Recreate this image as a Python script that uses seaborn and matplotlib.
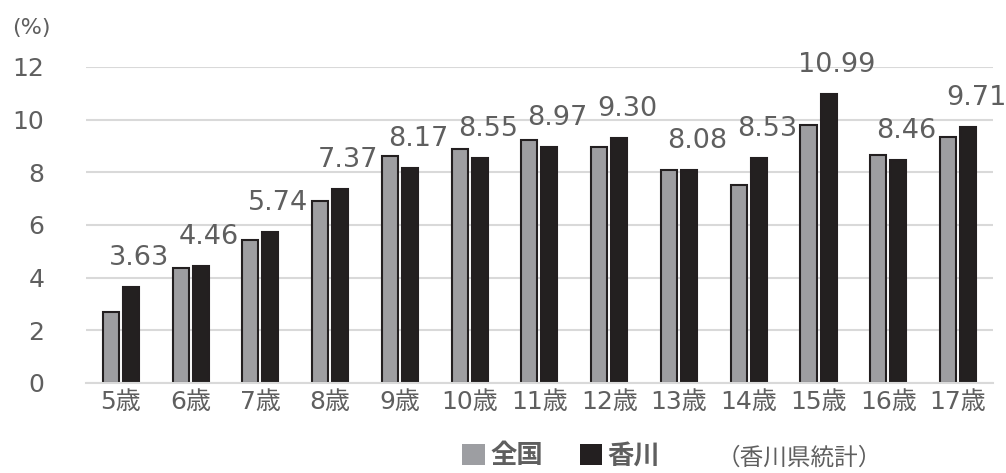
import pandas as pd
import seaborn as sns
import matplotlib.pyplot as plt
from matplotlib.patches import Patch

ages = ["5歳", "6歳", "7歳", "8歳", "9歳", "10歳", "11歳", "12歳",
        "13歳", "14歳", "15歳", "16歳", "17歳"]
zenkoku = [2.71, 4.38, 5.44, 6.90, 8.63, 8.87, 9.22, 8.98, 8.09, 7.52, 9.79, 8.66, 9.33]
kagawa = [3.63, 4.46, 5.74, 7.37, 8.17, 8.55, 8.97, 9.30, 8.08, 8.53, 10.99, 8.46, 9.71]
groups = ["全国", "香川"]

df = pd.DataFrame({
    "age": ages * 2,
    "value": zenkoku + kagawa,
    "group": [groups[0]] * len(ages) + [groups[1]] * len(ages),
})

gray = "#9d9ea2"
black = "#231f20"
text_c = "#5f5f5f"

sns.set_theme(style="white")
plt.rcParams["font.family"] = ["DejaVu Sans", "Noto Sans CJK JP"]

fig = plt.figure(figsize=(10.06, 4.73), dpi=100)
ax = fig.add_axes([0.0855, 0.1903, 0.9015, 0.6681])

sns.barplot(data=df, x="age", y="value", hue="group", palette=[gray, black],
            width=0.574, gap=0.2, edgecolor=black, linewidth=1.5,
            legend=False, ax=ax)

ax.set_ylim(0, 12)
ax.set_yticks(range(0, 13, 2))
ax.set_xlabel("")
ax.set_ylabel("")
ax.grid(axis="y", color="#d9d9d9", linewidth=1.5)
ax.set_axisbelow(True)
for s in ["top", "right", "left"]:
    ax.spines[s].set_visible(False)
ax.spines["bottom"].set_color("#d9d9d9")
ax.spines["bottom"].set_linewidth(1.5)
ax.tick_params(axis="both", length=0, labelsize=18, labelcolor=text_c)
ax.tick_params(axis="y", pad=30)
ax.tick_params(axis="x", pad=5)

# value labels over the 香川 bars
for bar, v in zip(ax.containers[1], kagawa):
    ax.annotate(f"{v:.2f}", (bar.get_x() + bar.get_width() / 2, v),
                xytext=(8, 22), textcoords="offset pixels",
                ha="center", va="baseline", fontsize=19.5, color=text_c,
                annotation_clip=False)

fig.text(0.012, 0.94, "(%)", fontsize=16, color=text_c, va="center")

handles = [Patch(facecolor=gray, edgecolor="none"), Patch(facecolor=black, edgecolor="none")]
leg = fig.legend(handles, groups, loc="center", bbox_to_anchor=(0.558, 0.036),
                 ncol=2, frameon=False, handlelength=0.85, handleheight=0.85,
                 handletextpad=0.2, columnspacing=1.4, borderpad=0.1,
                 prop={"size": 19, "weight": "bold",
                       "family": ["Noto Sans CJK JP"]})
for t in leg.get_texts():
    t.set_color(text_c)
fig.text(0.795, 0.032, "（香川県統計）", fontsize=17, color=text_c, ha="center", va="center",
         family=["Noto Sans CJK JP"])

fig.savefig("out.png", dpi=100)
